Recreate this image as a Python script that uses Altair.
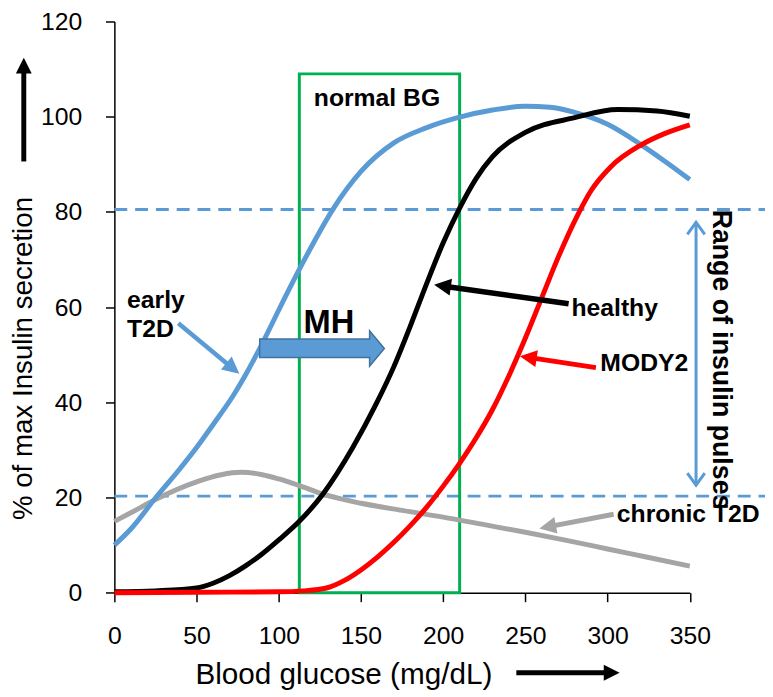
import math
import altair as alt
import pandas as pd

# ---------------- data ----------------
series_names = ["chronic T2D", "early T2D", "healthy", "MODY2"]
series_colors = ["#A5A5A5", "#5B9BD5", "#000000", "#FF0000"]

x_early = [0, 10, 25, 40, 50, 60, 73, 80, 90, 100, 112, 120, 133, 150, 170, 190, 210, 230, 250, 265, 280, 300, 320, 335, 350]
y_early = [10, 13.4, 19.9, 26.1, 30.5, 35.3, 41.8, 45.9, 52.4, 59.4, 67.6, 72.8, 80.6, 88.5, 94.5, 97.7, 99.9, 101.4, 102.2, 102.0, 100.9, 98.4, 94.2, 90.6, 86.8]

x_healthy = [0, 25, 50, 60, 70, 80, 90, 100, 112.5, 127, 145, 159, 170, 180, 190, 200, 210, 220, 230, 250, 280, 306, 330, 350]
y_healthy = [0.2, 0.4, 1.0, 2.0, 3.6, 5.7, 8.2, 11.1, 15.0, 20.8, 30.5, 39.5, 47.5, 56.0, 65.0, 73.5, 80.8, 87.0, 91.6, 96.7, 99.8, 101.5, 101.2, 100.1]

x_mody = [0, 50, 100, 115, 129, 140, 150, 160, 170, 180, 190, 200, 210, 220, 230, 240, 250, 260, 270, 282, 290, 302, 320, 335, 350]
y_mody = [0, 0.1, 0.2, 0.4, 1.0, 2.6, 4.8, 7.5, 10.6, 14.1, 18.0, 22.4, 27.2, 32.5, 38.5, 45.6, 53.5, 62.0, 70.5, 79.5, 84.5, 89.5, 94.0, 96.5, 98.3]

x_chronic = [0, 10, 25, 50, 65, 77, 90, 100, 112.5, 127, 150, 175, 200, 225, 250, 275, 300, 325, 350]
y_chronic = [15, 16.8, 19.6, 23.3, 24.8, 25.3, 24.8, 23.9, 22.5, 20.7, 18.8, 17.3, 15.9, 14.3, 12.7, 11.0, 9.2, 7.4, 5.6]

x_ticks = [0, 50, 100, 150, 200, 250, 300, 350]
y_ticks = [0, 20, 40, 60, 80, 100, 120]

ref_levels = [80.5, 20.3]          # dashed "range of insulin pulses" lines
ref_x = [0, 396]

box_x = [112.5, 210]               # "normal BG" box
box_y = [0, 109]

# MH block arrow: body and head
mh_body_x = [88.4, 155.6]
mh_body_y = [49.4, 53.3]
mh_tip = [164.2, 51.3]

# label arrows: tail -> tip
arr_names = ["early T2D", "healthy", "MODY2", "chronic T2D"]
arr_tail_x = [38.9, 276.3, 292.9, 303.7]
arr_tail_y = [56.6, 60.7, 47.3, 16.5]
arr_tip_x = [76.0, 194.5, 246.7, 258.5]
arr_tip_y = [46.0, 64.7, 49.7, 13.5]

# range double arrow
range_x = 353.8
range_lo = 22.6
range_hi = 77.8

# axis title arrows
yarrow_x = -55.1
yarrow_tail, yarrow_tip = 90.6, 112.4
xarrow_y = -16.8
xarrow_tail, xarrow_tip = 244.5, 307.3

# labels
lbl_text = ["normal BG", "early", "T2D", "healthy", "MODY2", "chronic T2D"]
lbl_x = [121.3, 7.7, 7.7, 278.0, 295.6, 305.6]
lbl_y = [102.2, 59.9, 53.8, 58.2, 46.5, 14.8]

# ---------------- layout ----------------
FONT = "Liberation Sans"
W, H = 581.5, 577.3
PX_X = W / 350.0
PX_Y = H / 120.0
BLUE = "#5B9BD5"
DARKBLUE = "#41719C"

xs = alt.Scale(domain=[0, 350], nice=False, zero=False)
ys = alt.Scale(domain=[0, 120], nice=False, zero=False)

AX = alt.Axis(values=x_ticks, title=None, grid=False, labelFont=FONT, labelFontSize=25,
              labelColor="black", labelPadding=22, tickSize=9, tickColor="black", tickWidth=1.5,
              domainColor="black", domainWidth=1.5, labelFlush=False, labelOverlap=False)
AY = alt.Axis(values=y_ticks, title=None, grid=False, labelFont=FONT, labelFontSize=25,
              labelColor="black", labelPadding=24, tickSize=9, tickColor="black", tickWidth=1.5,
              domainColor="black", domainWidth=1.5, labelFlush=False, labelOverlap=False)


def X(f):
    return alt.X(f"{f}:Q", scale=xs, axis=AX)


def Y(f):
    return alt.Y(f"{f}:Q", scale=ys, axis=AY)


layers = []

# dashed reference lines
ref_df = pd.DataFrame({"y": ref_levels, "x0": [ref_x[0]] * 2, "x1": [ref_x[1]] * 2})
layers.append(alt.Chart(ref_df).mark_rule(color=BLUE, strokeWidth=3, strokeDash=[13, 8]).encode(
    x=X("x0"), x2="x1", y=Y("y")))

# normal BG box
box_df = pd.DataFrame({"x0": [box_x[0]], "x1": [box_x[1]], "y0": [box_y[0]], "y1": [box_y[1]]})
layers.append(alt.Chart(box_df).mark_rect(fillOpacity=0, stroke="#00B050", strokeWidth=3).encode(
    x=X("x0"), x2="x1", y=Y("y0"), y2="y1"))

# curves
rows = []
for name, xv, yv in [("chronic T2D", x_chronic, y_chronic), ("early T2D", x_early, y_early),
                     ("healthy", x_healthy, y_healthy), ("MODY2", x_mody, y_mody)]:
    for a, b in zip(xv, yv):
        rows.append({"series": name, "x": a, "y": b})
curves = pd.DataFrame(rows)
layers.append(alt.Chart(curves).mark_line(strokeWidth=5, interpolate="monotone").encode(
    x=X("x"), y=Y("y"),
    color=alt.Color("series:N", scale=alt.Scale(domain=series_names, range=series_colors), legend=None)))

# MH block arrow: body, head, and a filler hiding the joint
body_df = pd.DataFrame({"x0": [mh_body_x[0]], "x1": [mh_body_x[1]], "y0": [mh_body_y[0]], "y1": [mh_body_y[1]]})
layers.append(alt.Chart(body_df).mark_rect(fill=BLUE, stroke=DARKBLUE, strokeWidth=1.5, opacity=1).encode(
    x=X("x0"), x2="x1", y=Y("y0"), y2="y1"))
head_len_px = (mh_tip[0] - mh_body_x[1]) * PX_X + 0.6
MH_HEAD = "M0,0 L-1,-1.2 L-1,1.2 Z"
hd = pd.DataFrame({"x": [mh_tip[0]], "y": [mh_tip[1]]})
layers.append(alt.Chart(hd).mark_point(shape=MH_HEAD, filled=True, fill=BLUE, stroke=DARKBLUE,
                                       strokeWidth=1.5, opacity=1, size=(2 * head_len_px) ** 2).encode(
    x=X("x"), y=Y("y")))
fill_df = pd.DataFrame({"x0": [mh_body_x[1] - 1.5], "x1": [mh_body_x[1] + 1.2],
                        "y0": [mh_body_y[0] + 0.2], "y1": [mh_body_y[1] - 0.2]})
layers.append(alt.Chart(fill_df).mark_rect(fill=BLUE, strokeWidth=0, opacity=1).encode(
    x=X("x0"), x2="x1", y=Y("y0"), y2="y1"))

HEAD = "M0,0 L0.5,1 L-0.5,1 Z"
CHEV = "M-0.8,1.1 L0,0 L0.8,1.1"


def arrow(tx, ty, px, py, color, width, head_len):
    dxp = (px - tx) * PX_X
    dyp = -(py - ty) * PX_Y
    L = math.hypot(dxp, dyp)
    ux, uy = dxp / L, dyp / L
    ang = math.degrees(math.atan2(dxp, -dyp)) % 360
    ex = px - 0.5 * head_len * ux / PX_X
    ey = py + 0.5 * head_len * uy / PX_Y
    sdf = pd.DataFrame({"x0": [tx], "y0": [ty], "x1": [ex], "y1": [ey]})
    shaft = alt.Chart(sdf).mark_rule(color=color, strokeWidth=width).encode(
        x=X("x0"), y=Y("y0"), x2="x1", y2="y1")
    hdf = pd.DataFrame({"x": [px], "y": [py], "a": [ang]})
    head = alt.Chart(hdf).mark_point(shape=HEAD, filled=True, opacity=1, strokeWidth=0,
                                     size=(2 * head_len) ** 2, color=color).encode(
        x=X("x"), y=Y("y"), angle=alt.Angle("a:Q", scale=None))
    return [shaft, head]


arr_colors = [BLUE, "#000000", "#FF0000", "#A5A5A5"]
arr_widths = [4.5, 5.5, 5, 5]
for i in range(len(arr_names)):
    layers += arrow(arr_tail_x[i], arr_tail_y[i], arr_tip_x[i], arr_tip_y[i],
                    arr_colors[i], arr_widths[i], 17)

# axis title arrows
layers += arrow(yarrow_x, yarrow_tail, yarrow_x, yarrow_tip, "#000000", 5, 16)
layers += arrow(xarrow_tail, xarrow_y, xarrow_tip, xarrow_y, "#000000", 5, 16)

# range double arrow
rdf = pd.DataFrame({"x": [range_x], "lo": [range_lo], "hi": [range_hi]})
layers.append(alt.Chart(rdf).mark_rule(color=BLUE, strokeWidth=3).encode(
    x=X("x"), y=Y("lo"), y2="hi"))
cdf = pd.DataFrame({"x": [range_x, range_x], "y": [range_hi, range_lo], "a": [0, 180]})
layers.append(alt.Chart(cdf).mark_point(shape=CHEV, filled=False, opacity=1, strokeWidth=3,
                                        size=484, color=BLUE).encode(
    x=X("x"), y=Y("y"), angle=alt.Angle("a:Q", scale=None)))

# labels
ldf = pd.DataFrame({"t": lbl_text, "x": lbl_x, "y": lbl_y})
layers.append(alt.Chart(ldf).mark_text(font=FONT, fontSize=25, fontWeight="bold", color="black",
                                       align="left", baseline="alphabetic").encode(
    x=X("x"), y=Y("y"), text="t:N"))

mhdf = pd.DataFrame({"t": ["MH"], "x": [115.1], "y": [54.6]})
layers.append(alt.Chart(mhdf).mark_text(font=FONT, fontSize=33, fontWeight="bold", color="black",
                                        align="left", baseline="alphabetic").encode(
    x=X("x"), y=Y("y"), text="t:N"))

rgdf = pd.DataFrame({"t": ["Range of insulin pulses"], "x": [368.7], "y": [49.0]})
layers.append(alt.Chart(rgdf).mark_text(font=FONT, fontSize=27, fontWeight="bold", color="black",
                                        align="center", baseline="middle", angle=90).encode(
    x=X("x"), y=Y("y"), text="t:N"))

xtdf = pd.DataFrame({"t": ["Blood glucose (mg/dL)"], "x": [139.6], "y": [-19.2]})
layers.append(alt.Chart(xtdf).mark_text(font=FONT, fontSize=30, color="black",
                                        align="center", baseline="alphabetic").encode(
    x=X("x"), y=Y("y"), text="t:N"))

ytdf = pd.DataFrame({"t": ["% of max Insulin secretion"], "x": [-55.1], "y": [49.2]})
layers.append(alt.Chart(ytdf).mark_text(font=FONT, fontSize=28, color="black",
                                        align="center", baseline="middle", angle=270).encode(
    x=X("x"), y=Y("y"), text="t:N"))

chart = alt.layer(*layers).properties(
    width=W, height=H,
    autosize=alt.AutoSizeParams(type="none"),
    padding={"left": 107.5, "top": 10, "right": 76, "bottom": 102},
    background="white",
).configure_view(stroke=None)

chart.save("out.html", embed_options={"renderer": "svg", "actions": False})
